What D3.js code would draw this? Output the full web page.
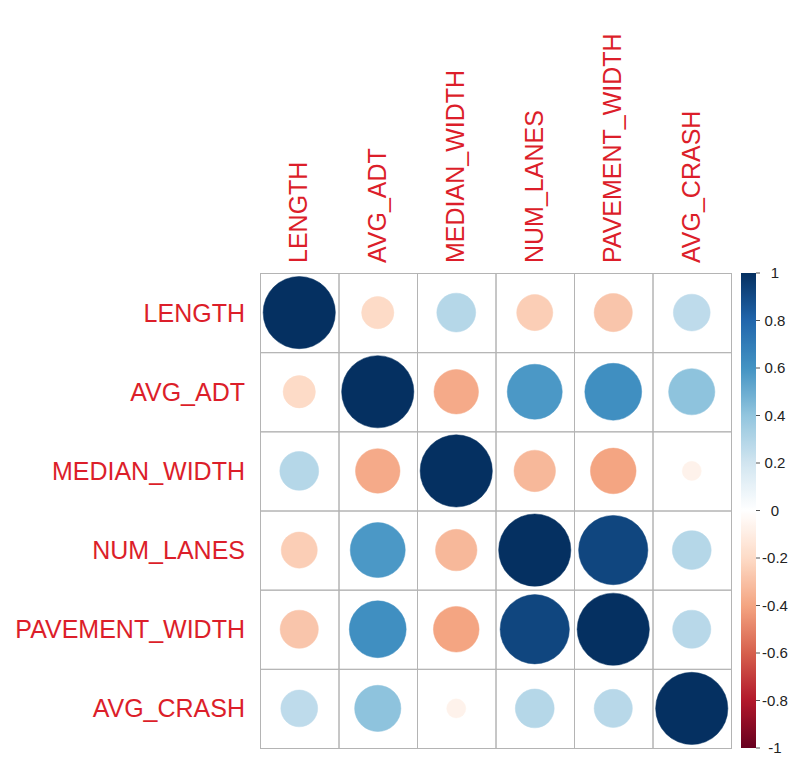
<!DOCTYPE html>
<html>
<head>
<meta charset="utf-8">
<script src="https://cdn.jsdelivr.net/npm/d3@7"></script>
<style>
  html, body { margin: 0; padding: 0; background: #fff; }
  svg { display: block; }
</style>
</head>
<body>
<svg id="chart" width="792" height="757"></svg>
<script>
// ---- data ----
const variables = ["LENGTH", "AVG_ADT", "MEDIAN_WIDTH", "NUM_LANES", "PAVEMENT_WIDTH", "AVG_CRASH"];
const rowLENGTH        = [ 1.00, -0.20,  0.29, -0.25, -0.28,  0.26];
const rowAVG_ADT       = [-0.20,  1.00, -0.38,  0.58,  0.62,  0.41];
const rowMEDIAN_WIDTH  = [ 0.29, -0.38,  1.00, -0.33, -0.40, -0.07];
const rowNUM_LANES     = [-0.25,  0.58, -0.33,  1.00,  0.92,  0.29];
const rowPAVEMENT_WIDTH= [-0.28,  0.62, -0.40,  0.92,  1.00,  0.28];
const rowAVG_CRASH     = [ 0.26,  0.41, -0.07,  0.29,  0.28,  1.00];
const corrRows = [rowLENGTH, rowAVG_ADT, rowMEDIAN_WIDTH, rowNUM_LANES, rowPAVEMENT_WIDTH, rowAVG_CRASH];
const legendTicks = [-1, -0.8, -0.6, -0.4, -0.2, 0, 0.2, 0.4, 0.6, 0.8, 1];
const legendLabels = ["-1", "-0.8", "-0.6", "-0.4", "-0.2", "0", "0.2", "0.4", "0.6", "0.8", "1"];
const paletteRdBu = ["#67001F", "#B2182B", "#D6604D", "#F4A582", "#FDDBC7", "#FFFFFF",
                     "#D1E5F0", "#92C5DE", "#4393C3", "#2166AC", "#053061"];

// ---- layout ----
const gridLeft = 260, gridRight = 731, gridTop = 273, gridBottom = 748;
const barLeft = 741, barRight = 756;
const labelColor = "#dc1e2a";
const fontFamily = "'Liberation Sans', Arial, Helvetica, sans-serif";

const svg = d3.select("#chart");

const x = d3.scaleBand().domain(variables).range([gridLeft, gridRight]).padding(0);
const y = d3.scaleBand().domain(variables).range([gridTop, gridBottom]).padding(0);

const color = d3.scaleLinear()
  .domain(d3.range(paletteRdBu.length).map(i => -1 + 2 * i / (paletteRdBu.length - 1)))
  .range(paletteRdBu)
  .interpolate(d3.interpolateRgb);

const radius = d3.scaleSqrt().domain([0, 1]).range([0, Math.min(x.bandwidth(), y.bandwidth()) * 0.46]);

// cells
const cells = [];
variables.forEach((rv, i) => variables.forEach((cv, j) => cells.push({row: rv, col: cv, value: corrRows[i][j]})));

// grid rectangles
svg.append("g").selectAll("rect")
  .data(cells).join("rect")
  .attr("x", d => x(d.col) + 0.5)
  .attr("y", d => y(d.row) + 0.5)
  .attr("width", x.bandwidth())
  .attr("height", y.bandwidth())
  .attr("fill", "none")
  .attr("stroke", "#b4b4b4")
  .attr("stroke-width", 1);

// circles
svg.append("g").selectAll("circle")
  .data(cells).join("circle")
  .attr("cx", d => x(d.col) + x.bandwidth() / 2)
  .attr("cy", d => y(d.row) + y.bandwidth() / 2)
  .attr("r", d => radius(Math.abs(d.value)))
  .attr("fill", d => color(d.value))
  .attr("stroke", d => color(d.value))
  .attr("stroke-width", 0.5);

// row labels
svg.append("g").selectAll("text")
  .data(variables).join("text")
  .attr("x", gridLeft - 15)
  .attr("y", d => y(d) + y.bandwidth() / 2)
  .attr("dy", "0.36em")
  .attr("text-anchor", "end")
  .attr("font-family", fontFamily)
  .attr("font-size", 25)
  .attr("fill", labelColor)
  .text(d => d);

// column labels
svg.append("g").selectAll("text")
  .data(variables).join("text")
  .attr("transform", d => `translate(${x(d) + x.bandwidth() / 2 + 8},${gridTop - 10}) rotate(-90)`)
  .attr("text-anchor", "start")
  .attr("font-family", fontFamily)
  .attr("font-size", 25)
  .attr("fill", labelColor)
  .text(d => d);

// color legend
const ly = d3.scaleLinear().domain([-1, 1]).range([gridBottom, gridTop]);
const defs = svg.append("defs");
const grad = defs.append("linearGradient")
  .attr("id", "cbar").attr("x1", 0).attr("y1", 1).attr("x2", 0).attr("y2", 0);
grad.selectAll("stop")
  .data(d3.range(0, 201))
  .join("stop")
  .attr("offset", d => d / 200)
  .attr("stop-color", d => color(-1 + d / 100));

svg.append("rect")
  .attr("x", barLeft).attr("y", ly(1))
  .attr("width", barRight - barLeft)
  .attr("height", ly(-1) - ly(1))
  .attr("fill", "url(#cbar)");

const tickG = svg.append("g").selectAll("g")
  .data(legendTicks.map((t, i) => ({t, label: legendLabels[i]})))
  .join("g");
tickG.append("line")
  .attr("x1", barRight).attr("x2", barRight + 4)
  .attr("y1", d => ly(d.t)).attr("y2", d => ly(d.t))
  .attr("stroke", "#555").attr("stroke-width", 1);
tickG.append("text")
  .attr("x", 775)
  .attr("y", d => ly(d.t))
  .attr("dy", "0.36em")
  .attr("text-anchor", "middle")
  .attr("font-family", fontFamily)
  .attr("font-size", 15)
  .attr("fill", "#222")
  .text(d => d.label);
</script>
</body>
</html>
